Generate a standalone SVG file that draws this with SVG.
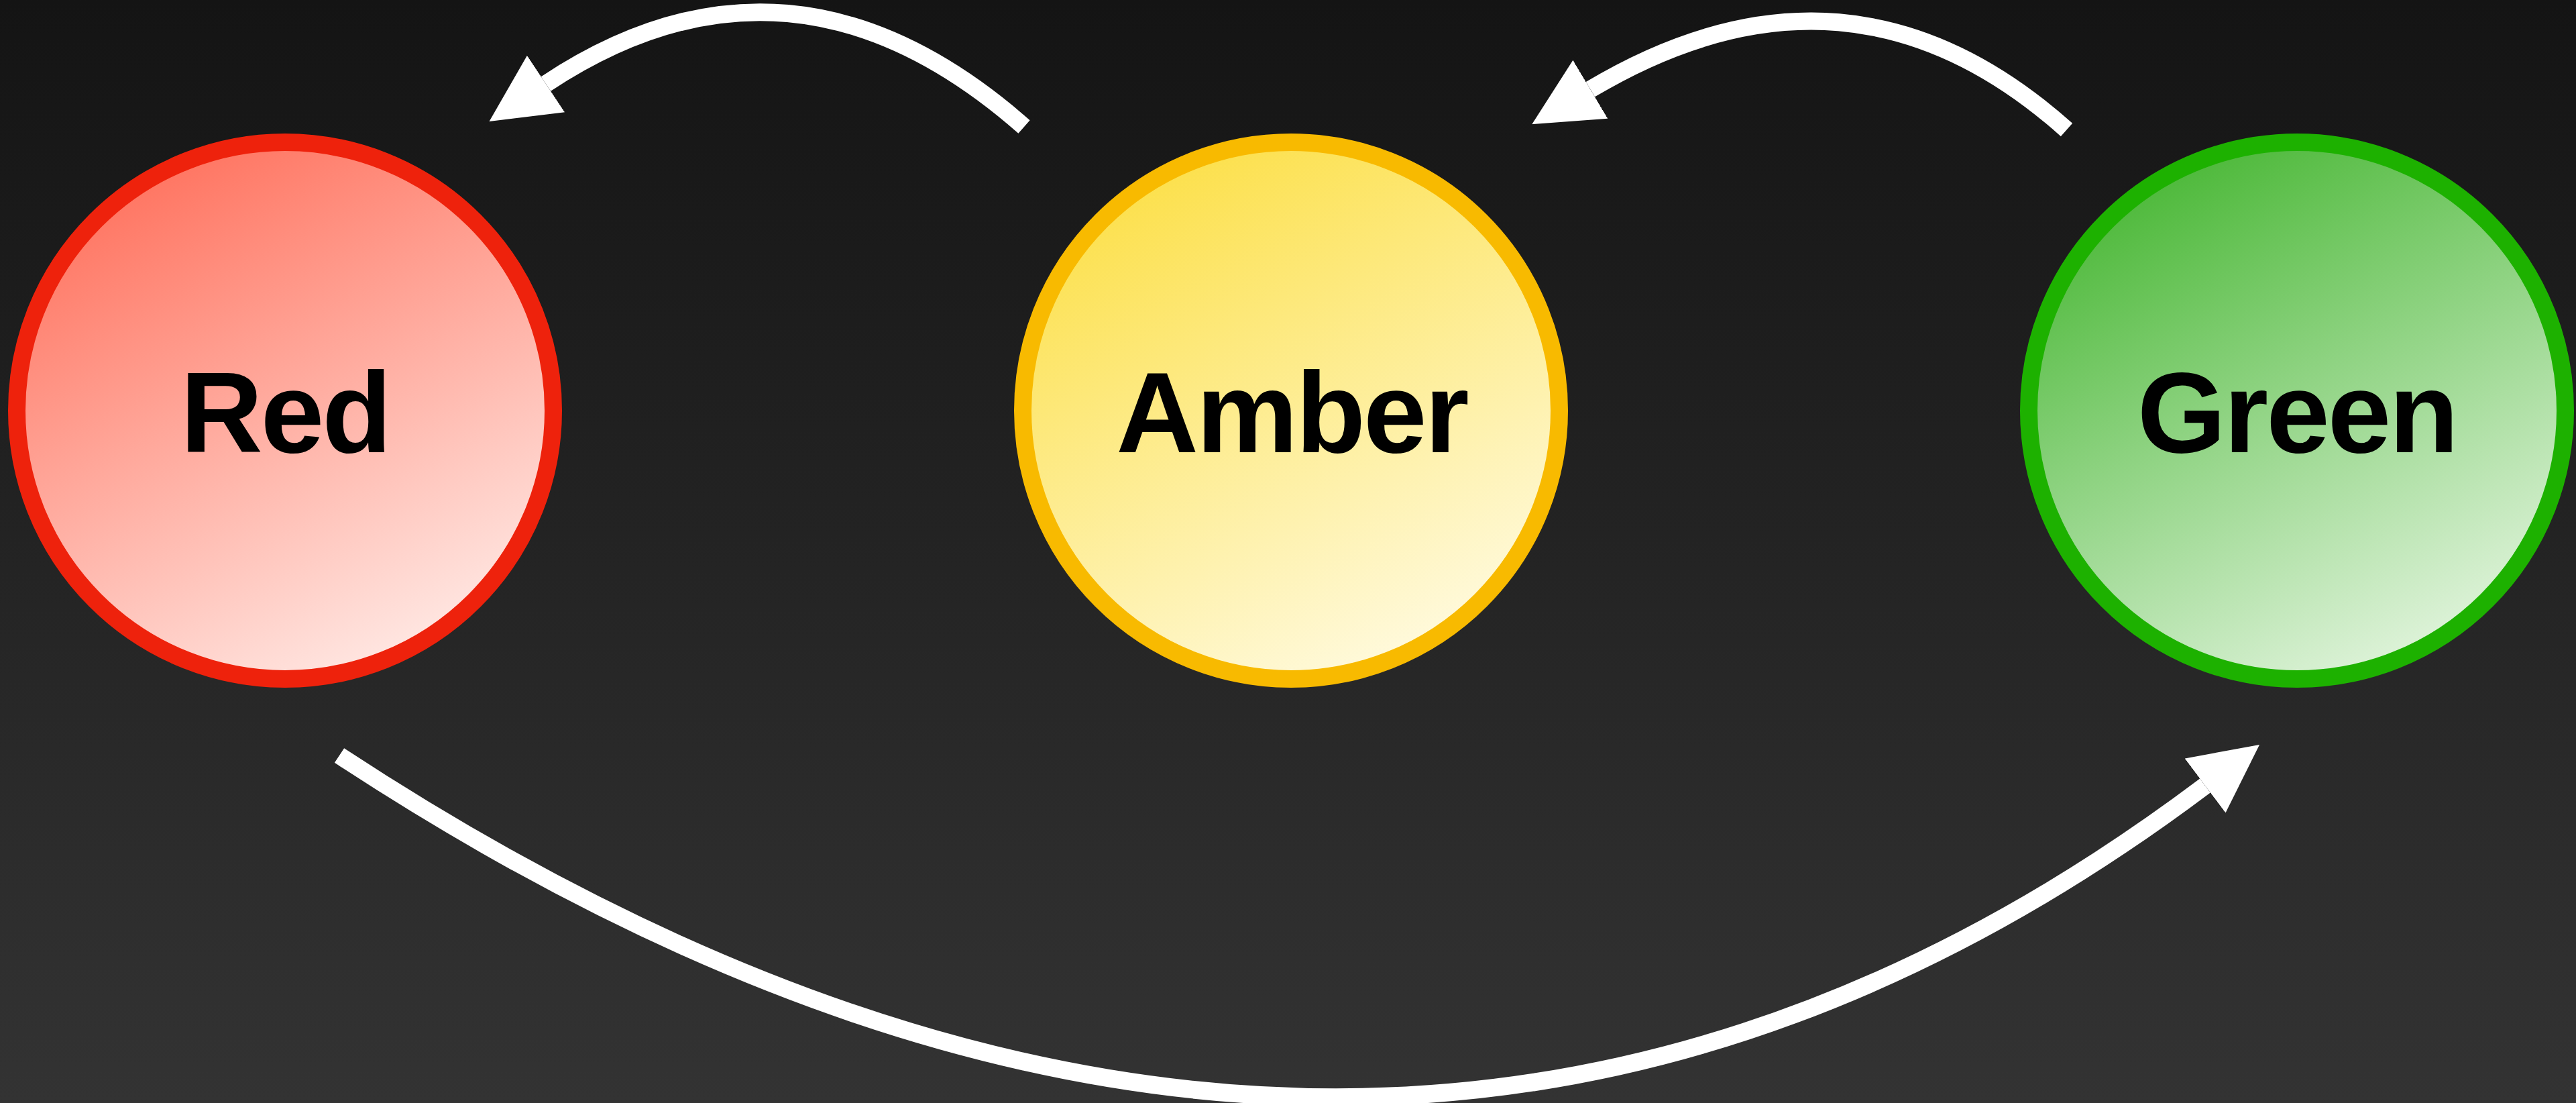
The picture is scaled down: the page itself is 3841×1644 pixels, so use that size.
<svg xmlns="http://www.w3.org/2000/svg" width="3841" height="1644" viewBox="0 0 3841 1644">
  <defs>
    <linearGradient id="bg" x1="0" y1="0" x2="0" y2="1">
      <stop offset="0" stop-color="#141414"/>
      <stop offset="1" stop-color="#333333"/>
    </linearGradient>
    <linearGradient id="fillRed" x1="0.25" y1="0" x2="0.75" y2="1">
      <stop offset="0" stop-color="#FF6F5B"/>
      <stop offset="1" stop-color="#FFEDE9"/>
    </linearGradient>
    <linearGradient id="fillAmber" x1="0.25" y1="0" x2="0.75" y2="1">
      <stop offset="0" stop-color="#FCDF45"/>
      <stop offset="1" stop-color="#FFFBE4"/>
    </linearGradient>
    <linearGradient id="fillGreen" x1="0.25" y1="0" x2="0.75" y2="1">
      <stop offset="0" stop-color="#46B632"/>
      <stop offset="1" stop-color="#E6F6E2"/>
    </linearGradient>
    <marker id="head" viewBox="0 0 10 10" markerWidth="3.9" markerHeight="3.9" refX="0" refY="5" orient="auto" markerUnits="strokeWidth">
      <path d="M0,0 L10,5 L0,10 z" fill="#FFFFFF"/>
    </marker>
  </defs>
  <style>
    .node { stroke-width: 26; }
    .label { font-family: "Liberation Sans", Arial, sans-serif; font-weight: bold; font-size: 170px; letter-spacing: -3px; fill: #000000; text-anchor: middle; }
    .edge { fill: none; stroke: #FFFFFF; stroke-width: 26; stroke-linecap: butt; marker-end: url(#head); }
  </style>

  <rect x="0" y="0" width="3841" height="1644" fill="url(#bg)"/>

  <g id="connectors">
    <path id="amber-to-red" class="edge" d="M1527,189 Q1179,-117 814,125"/>
    <path id="green-to-amber" class="edge" d="M3081.5,193.5 Q2757,-96.7 2371.4,133.2"/>
    <path id="red-to-green" class="edge" d="M506,1126 Q2023,2122 3288,1171"/>
  </g>

  <g id="red">
    <circle class="node" cx="425" cy="612" r="400" fill="url(#fillRed)" stroke="#EE220C"/>
    <text class="label" x="425" y="674">Red</text>
  </g>

  <g id="amber">
    <circle class="node" cx="1925" cy="612" r="400" fill="url(#fillAmber)" stroke="#F8BA00"/>
    <text class="label" x="1926" y="674">Amber</text>
  </g>

  <g id="green">
    <circle class="node" cx="3425" cy="612" r="400" fill="url(#fillGreen)" stroke="#1DB100"/>
    <text class="label" x="3425" y="674">Green</text>
  </g>
</svg>
